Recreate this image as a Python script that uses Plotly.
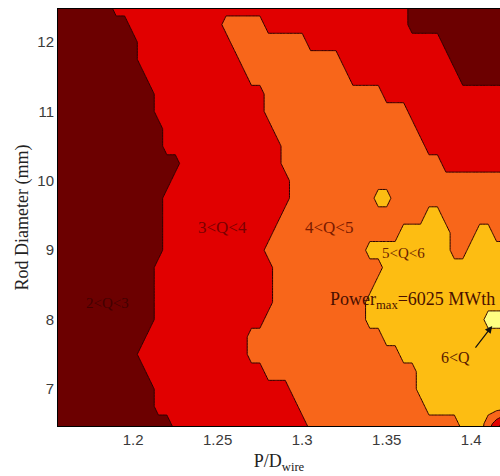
import plotly.graph_objects as go

# P/D_wire grid (x) and rod diameter grid (y, mm)
pd_wire = [1.150, 1.155, 1.160, 1.165, 1.170, 1.175, 1.180, 1.185, 1.190, 1.195,
           1.200, 1.205, 1.210, 1.215, 1.220, 1.225, 1.230, 1.235, 1.240, 1.245,
           1.250, 1.255, 1.260, 1.265, 1.270, 1.275, 1.280, 1.285, 1.290, 1.295,
           1.300, 1.305, 1.310, 1.315, 1.320, 1.325, 1.330, 1.335, 1.340, 1.345,
           1.350, 1.355, 1.360, 1.365, 1.370, 1.375, 1.380, 1.385, 1.390, 1.395,
           1.400, 1.405, 1.410, 1.415, 1.420]
rod_diameter = [6.25, 6.5, 6.75, 7.0, 7.25, 7.5, 7.75, 8.0, 8.25, 8.5, 8.75, 9.0, 9.25,
                9.5, 9.75, 10.0, 10.25, 10.5, 10.75, 11.0, 11.25, 11.5, 11.75, 12.0,
                12.25, 12.5]

# Power class Q (GWth band, lower bound) read along each row, run-length encoded
# (class, number of grid points), bottom row first
q_class_runs = [
    [(2, 16), (3, 16), (4, 18), (5, 2), (3, 1), (2, 2)],            # 6.25
    [(2, 15), (3, 16), (4, 18), (5, 3), (4, 1), (3, 1), (2, 1)],    # 6.5
    [(2, 13), (3, 17), (4, 15), (5, 10)],                           # 6.75
    [(2, 13), (3, 16), (4, 15), (5, 11)],                           # 7.0
    [(2, 12), (3, 14), (4, 18), (5, 11)],                           # 7.25
    [(2, 11), (3, 13), (4, 18), (5, 13)],                           # 7.5
    [(2, 12), (3, 12), (4, 16), (5, 15)],                           # 7.75
    [(2, 13), (3, 13), (4, 12), (5, 14), (6, 3)],                   # 8.0
    [(2, 13), (3, 14), (4, 11), (5, 17)],                           # 8.25
    [(2, 13), (3, 14), (4, 12), (5, 16)],                           # 8.5
    [(2, 13), (3, 14), (4, 13), (5, 15)],                           # 8.75
    [(2, 14), (3, 12), (4, 12), (5, 10), (4, 2), (5, 5)],           # 9.0
    [(2, 14), (3, 13), (4, 15), (5, 6), (4, 3), (5, 2), (4, 2)],    # 9.25
    [(2, 14), (3, 14), (4, 17), (5, 2), (4, 8)],                    # 9.5
    [(2, 14), (3, 15), (4, 10), (5, 2), (4, 14)],                   # 9.75
    [(2, 15), (3, 14), (4, 26)],                                    # 10.0
    [(2, 16), (3, 12), (4, 19), (3, 8)],                            # 10.25
    [(2, 14), (3, 14), (4, 17), (3, 10)],                           # 10.5
    [(2, 14), (3, 13), (4, 17), (3, 11)],                           # 10.75
    [(2, 13), (3, 13), (4, 17), (3, 12)],                           # 11.0
    [(2, 13), (3, 13), (4, 14), (3, 15)],                           # 11.25
    [(2, 12), (3, 12), (4, 12), (3, 13), (2, 6)],                   # 11.5
    [(2, 11), (3, 12), (4, 12), (3, 13), (2, 7)],                   # 11.75
    [(2, 11), (3, 11), (4, 9), (3, 16), (2, 8)],                    # 12.0
    [(2, 10), (3, 11), (4, 5), (3, 17), (2, 12)],                   # 12.25
    [(2, 8), (3, 35), (2, 12)],                                     # 12.5
]

x_tick_vals = [1.2, 1.25, 1.3, 1.35, 1.4]
x_tick_text = ["1.2", "1.25", "1.3", "1.35", "1.4"]
y_tick_vals = [7, 8, 9, 10, 11, 12]

band_labels = ["2<Q<3", "3<Q<4", "4<Q<5", "5<Q<6"]
band_label_x = [1.185, 1.2527, 1.316, 1.3598]
band_label_y = [8.24, 9.334, 9.334, 8.96]
band_label_sizes = [15, 17, 17, 15]
band_label_colors = ["#420000", "#7a0000", "#7a1a00", "#6a2200"]

z = []
for runs in q_class_runs:
    row = []
    for cls, n in runs:
        row += [cls + 0.5] * n
    assert len(row) == len(pd_wire)
    z.append(row)

band_colors = ["#6c0000", "#e10000", "#f8661a", "#fdbd12", "#ffff82"]
colorscale = []
edges = [0, 0.125, 0.375, 0.625, 0.875, 1.0]
for k, c in enumerate(band_colors):
    colorscale.append([edges[k], c])
    colorscale.append([edges[k + 1], c])

fig = go.Figure(go.Contour(
    x=pd_wire, y=rod_diameter, z=z,
    contours=dict(start=3, end=6, size=1, coloring="fill", showlabels=False),
    colorscale=colorscale, showscale=False,
    line=dict(color="#2a0000", width=1, smoothing=0),
    hoverinfo="skip",
))

serif = "Liberation Serif, Times New Roman, serif"
annotations = []
for t, x, y, s, c in zip(band_labels, band_label_x, band_label_y, band_label_sizes,
                         band_label_colors):
    annotations.append(dict(x=x, y=y, xref="x", yref="y", text=t, showarrow=False,
                            font=dict(family=serif, size=s, color=c)))
annotations.append(dict(x=1.3154, y=8.27, xref="x", yref="y", xanchor="left",
                        text="Power<sub>max</sub>=6025 MWth", showarrow=False,
                        font=dict(family=serif, size=18, color="#4a1000")))
annotations.append(dict(x=1.3905, y=7.447, xref="x", yref="y", text="6<Q", showarrow=False,
                        font=dict(family=serif, size=16, color="#5a1a00")))
annotations.append(dict(x=1.4124, y=7.908, xref="x", yref="y", axref="x", ayref="y",
                        ax=1.4018, ay=7.576, text="", showarrow=True,
                        arrowhead=2, arrowsize=1.2, arrowwidth=1.2, arrowcolor="#111111"))

fig.update_layout(
    width=500, height=476,
    margin=dict(l=58, r=0, t=9, b=50, autoexpand=False),
    paper_bgcolor="white", plot_bgcolor="white",
    annotations=annotations,
    showlegend=False,
)
fig.update_xaxes(
    range=[1.1556, 1.417], tickvals=x_tick_vals, ticktext=x_tick_text,
    showgrid=False, zeroline=False, ticks="", showline=True, linecolor="black",
    linewidth=1, mirror=True, automargin=False,
    tickfont=dict(family="Liberation Sans, Arial, sans-serif", size=15, color="#3a3a3a"),
    title=dict(text="P/D<sub>wire</sub>", font=dict(family=serif, size=18, color="#222222"),
               standoff=7),
)
fig.update_yaxes(
    range=[6.467, 12.475], tickvals=y_tick_vals,
    showgrid=False, zeroline=False, ticks="", showline=True, linecolor="black",
    linewidth=1, mirror=True, automargin=False,
    tickfont=dict(family="Liberation Sans, Arial, sans-serif", size=15, color="#3a3a3a"),
    title=dict(text="Rod Diameter (mm)", font=dict(family=serif, size=18, color="#222222"),
               standoff=4),
)

fig.write_html("out.html",
               config={"displayModeBar": False},
               post_script="document.body.style.margin='0';"
                           "document.body.style.overflow='hidden';")
